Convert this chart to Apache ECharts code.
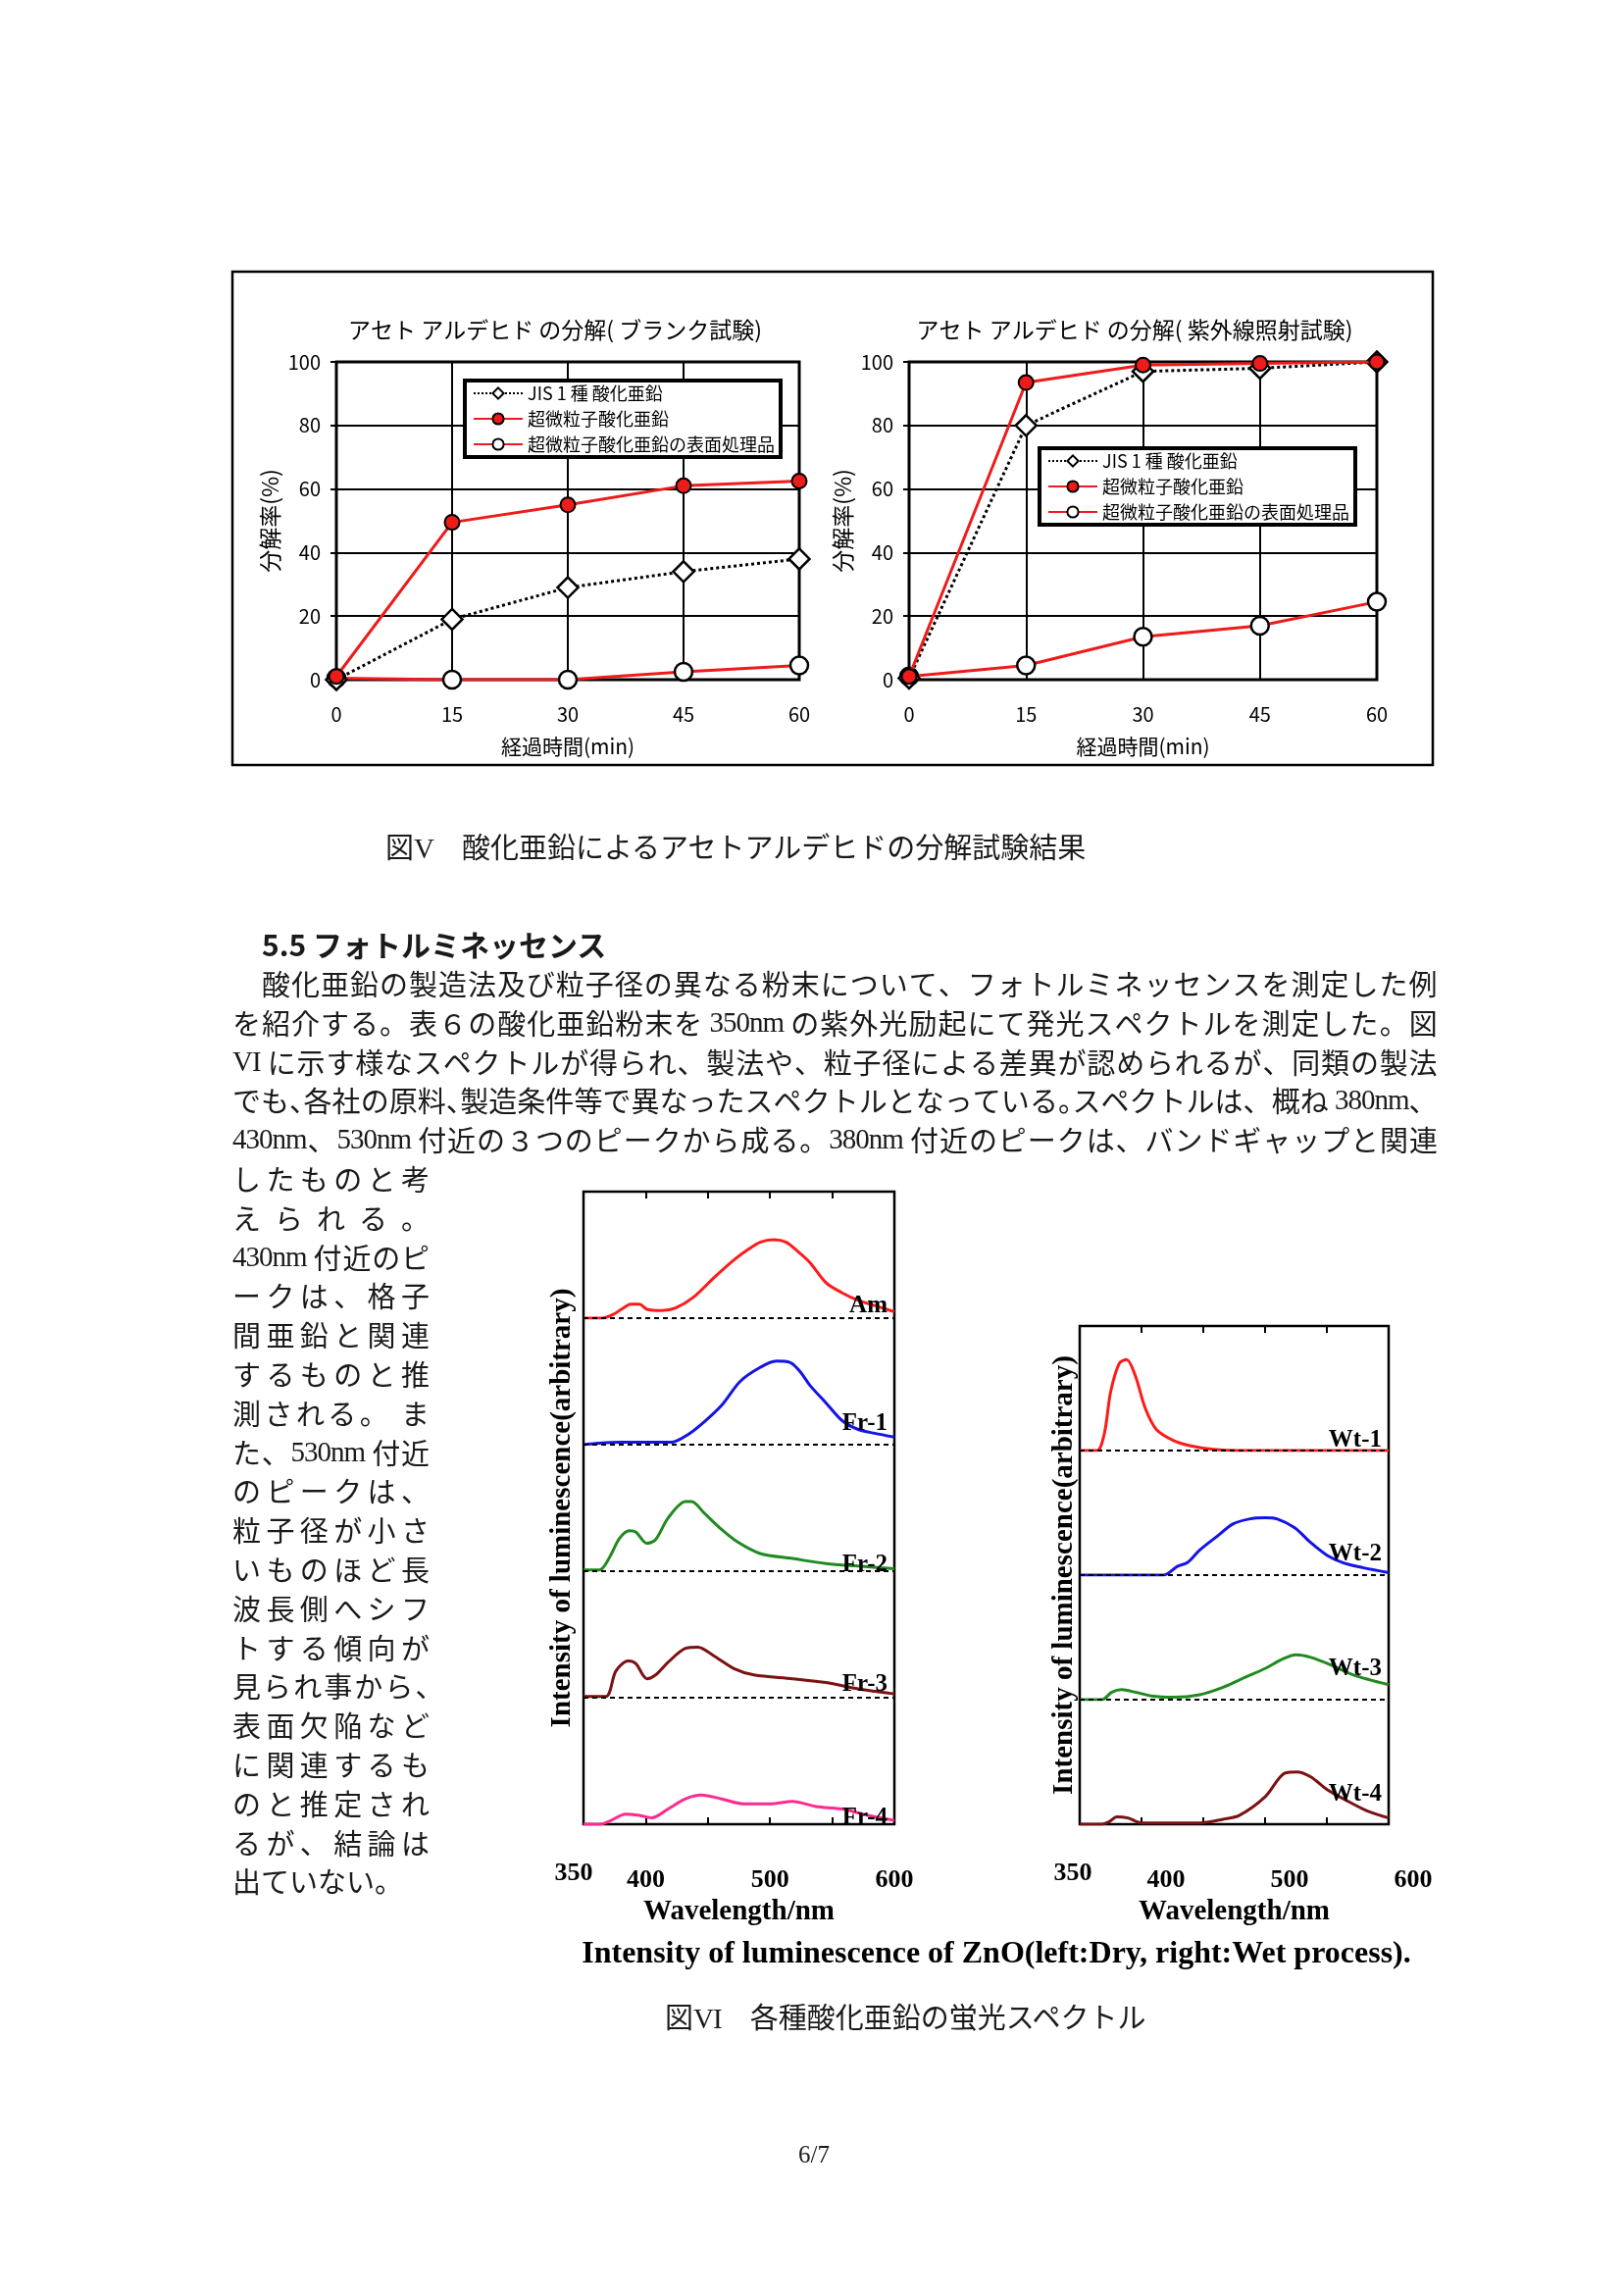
<!DOCTYPE html>
<html><head><meta charset="utf-8">
<script src="https://cdn.jsdelivr.net/npm/echarts@6/dist/echarts.min.js"></script>
<style>
html,body{margin:0;padding:0;background:#fff;}
#page{position:relative;width:1656px;height:2339px;overflow:hidden;background:#fff;}
#chart{position:absolute;left:0;top:0;width:1656px;height:2339px;}
.t{position:absolute;white-space:pre;font-family:"Noto Sans CJK JP",sans-serif;font-size:29px;line-height:40px;color:#1a1a1a;}
.j{display:flex;justify-content:space-between;}
.j span{white-space:pre;}
.j span.c{display:inline-block;width:0.5em;overflow:visible;}
.a{font-family:"Liberation Serif",serif;letter-spacing:-1px;}
.en{font-family:"Liberation Serif",serif;font-weight:bold;color:#000;}
</style></head>
<body><div id="page"><div id="chart"></div></div>
<script>
// ---------------- data ----------------
const times = [0, 15, 30, 45, 60];
const seriesNames = ['JIS 1 種 酸化亜鉛', '超微粒子酸化亜鉛', '超微粒子酸化亜鉛の表面処理品'];
const blankJIS = [0, 19, 29, 34, 38];
const blankUltra = [1, 49.5, 55, 61, 62.5];
const blankSurface = [0.5, 0, 0, 2.5, 4.5];
const uvJIS = [0.5, 80, 97, 98, 100];
const uvUltra = [1, 93.5, 99, 99.5, 100];
const uvSurface = [1, 4.5, 13.5, 17, 24.5];
const wavelengthTicks = [350, 400, 500, 600];

const dryNames = ['Am', 'Fr-1', 'Fr-2', 'Fr-3', 'Fr-4'];
const amSpec = [[350,0],[365,0],[374,0.03],[382,0.08],[388,0.11],[395,0.11],[401,0.07],[413,0.06],[424,0.08],[439,0.17],[455,0.32],[471,0.46],[482,0.54],[492,0.60],[503,0.62],[513,0.60],[522,0.53],[532,0.44],[545,0.28],[558,0.20],[571,0.14],[584,0.10],[600,0.05]];
const fr1Spec = [[350,0],[360,0.01],[380,0.02],[400,0.02],[421,0.02],[434,0.08],[447,0.18],[461,0.31],[476,0.50],[492,0.61],[505,0.66],[516,0.65],[524,0.58],[532,0.47],[545,0.33],[558,0.19],[571,0.12],[584,0.09],[600,0.06]];
const fr2Spec = [[350,0.01],[363,0.01],[371,0.11],[379,0.26],[387,0.32],[392,0.31],[401,0.22],[408,0.25],[418,0.42],[432,0.55],[437,0.55],[447,0.46],[461,0.33],[474,0.23],[492,0.14],[518,0.10],[545,0.06],[571,0.04],[600,0.02]];
const fr3Spec = [[350,0.01],[368,0.01],[376,0.21],[386,0.29],[392,0.27],[401,0.15],[408,0.18],[418,0.28],[432,0.39],[442,0.40],[455,0.33],[471,0.23],[487,0.18],[518,0.15],[545,0.12],[571,0.07],[600,0.03]];
const fr4Spec = [[350,0],[363,0],[370,0.02],[384,0.08],[395,0.07],[405,0.05],[418,0.12],[432,0.20],[445,0.23],[461,0.20],[479,0.16],[500,0.16],[518,0.18],[537,0.14],[558,0.12],[579,0.07],[600,0.03]];

const wetNames = ['Wt-1', 'Wt-2', 'Wt-3', 'Wt-4'];
const wt1Spec = [[350,0],[364,0],[370,0.14],[375,0.47],[382,0.70],[388,0.73],[395,0.60],[403,0.34],[412,0.17],[426,0.08],[439,0.04],[458,0.01],[480,0],[600,0]];
const wt2Spec = [[350,0],[418,0],[429,0.07],[437,0.10],[447,0.20],[461,0.31],[474,0.41],[487,0.45],[500,0.46],[510,0.45],[524,0.38],[537,0.26],[550,0.16],[563,0.10],[579,0.06],[600,0.02]];
const wt3Spec = [[350,0],[368,0],[376,0.06],[384,0.08],[395,0.06],[408,0.03],[426,0.02],[447,0.04],[466,0.10],[484,0.18],[500,0.25],[513,0.32],[525,0.36],[537,0.34],[553,0.28],[571,0.20],[600,0.12]];
const wt4Spec = [[350,0],[368,0],[374,0.02],[380,0.06],[389,0.05],[400,0.01],[447,0.01],[466,0.04],[479,0.07],[500,0.22],[516,0.41],[526,0.42],[537,0.38],[550,0.28],[566,0.19],[582,0.11],[600,0.05]];

const bodyLines = [
  '酸化亜鉛の製造法及び粒子径の異なる粉末について、フォトルミネッセンスを測定した例',
  'を紹介する。表６の酸化亜鉛粉末を 350nm の紫外光励起にて発光スペクトルを測定した。図',
  'VI に示す様なスペクトルが得られ、製法や、粒子径による差異が認められるが、同類の製法',
  'でも、各社の原料、製造条件等で異なったスペクトルとなっている。スペクトルは、概ね 380nm、',
  '430nm、530nm 付近の３つのピークから成る。380nm 付近のピークは、バンドギャップと関連'
];
const columnLines = ['したものと考','えられる。','430nm 付近のピ','ークは、格子','間亜鉛と関連','するものと推','測される。 ま','た、530nm 付近','のピークは、','粒子径が小さ','いものほど長','波長側へシフ','トする傾向が','見られ事から、','表面欠陥など','に関連するも','のと推定され','るが、結論は','出ていない。'];

// ---------------- text ----------------
const page = document.getElementById('page');
function addDiv(html, css, cls) {
  const d = document.createElement('div');
  d.className = 't ' + (cls || '');
  d.innerHTML = html;
  Object.assign(d.style, css);
  page.appendChild(d);
  return d;
}
function addLine(txt, left, centerY, width, justify) {
  const d = document.createElement('div');
  d.className = 't' + (justify ? ' j' : '');
  Object.assign(d.style, {left: left + 'px', top: (centerY - 20) + 'px'});
  if (justify) d.style.width = width + 'px';
  const punct = [];
  (txt.match(/[\x20-\x7E]+|./gu) || []).forEach(tok => {
    const s = document.createElement('span');
    s.textContent = tok;
    if (/^[\x20-\x7E]+$/.test(tok)) s.className = 'a';
    else if (tok === '、' || tok === '。') punct.push(s);
    d.appendChild(s);
  });
  page.appendChild(d);
  if (justify) {
    const natural = () => { let w = 0; d.querySelectorAll('span').forEach(s => w += s.getBoundingClientRect().width); return w; };
    for (const p of punct) { if (natural() <= width) break; p.classList.add('c'); }
  }
}
addDiv('図<span class="a">V</span>　酸化亜鉛によるアセトアルデヒドの分解試験結果', {left:'393px', top:'842px'});
addDiv('5.5 フォトルミネッセンス', {left:'267px', top:'942px', fontWeight:'bold', fontSize:'30px'});
const lineStep = 39.8;
bodyLines.forEach((t, i) => {
  const left = i === 0 ? 267 : 237;
  addLine(t, left, 1002 + lineStep * i, 1466 - left, true);
});
columnLines.forEach((t, i) => addLine(t, 237, 1002 + lineStep * (i + 5), 201, i < columnLines.length - 1));
addDiv('Intensity of luminescence of ZnO(left:Dry, right:Wet process).', {left:'1016px', top:'1970px', transform:'translateX(-50%)', fontSize:'32px'}, 'en');
addDiv('図<span class="a">VI</span>　各種酸化亜鉛の蛍光スペクトル', {left:'678px', top:'2035px'});
addDiv('6/7', {left:'830px', top:'2177px', transform:'translateX(-50%)', fontFamily:'"Liberation Serif",serif', fontSize:'25px'});

// ---------------- chart ----------------
const chart = echarts.init(document.getElementById('chart'), null, {width:1656, height:2339});
const FONT = '"Noto Sans CJK JP", sans-serif';
const SERIF = '"Liberation Serif", serif';
const RED = '#ee1b1b';
const grid = [], xAxis = [], yAxis = [], series = [];

function addTop(left, width, jis, ultra, surf) {
  const gi = grid.length;
  grid.push({left, top:369, width, height:324, show:true, borderColor:'#000', borderWidth:3, backgroundColor:'transparent'});
  xAxis.push({type:'value', gridIndex:gi, min:0, max:60, interval:15,
    axisLine:{show:false}, axisTick:{show:false},
    splitLine:{lineStyle:{color:'#000', width:2}},
    axisLabel:{color:'#000', fontSize:20, fontFamily:FONT, margin:25},
    name:'経過時間(min)', nameLocation:'middle', nameGap:58,
    nameTextStyle:{color:'#000', fontSize:21, fontFamily:FONT}});
  yAxis.push({type:'value', gridIndex:gi, min:0, max:100, interval:20,
    axisLine:{show:false}, axisTick:{show:true, length:6, lineStyle:{color:'#000', width:2}},
    splitLine:{lineStyle:{color:'#000', width:2}},
    axisLabel:{color:'#000', fontSize:20, fontFamily:FONT, margin:16},
    name:'分解率(%)', nameLocation:'middle', nameGap:56, nameRotate:90,
    nameTextStyle:{color:'#000', fontSize:23, fontFamily:FONT}});
  const xi = xAxis.length - 1, yi = yAxis.length - 1;
  const pairs = v => times.map((t, i) => [t, v[i]]);
  series.push({name:seriesNames[0], type:'line', xAxisIndex:xi, yAxisIndex:yi, data:pairs(jis),
    symbol:'diamond', symbolSize:21, lineStyle:{color:'#000', width:3, type:'dotted'},
    itemStyle:{color:'#fff', borderColor:'#000', borderWidth:2.5}, z:4});
  series.push({name:seriesNames[1], type:'line', xAxisIndex:xi, yAxisIndex:yi, data:pairs(ultra),
    symbol:'circle', symbolSize:15, lineStyle:{color:RED, width:3},
    itemStyle:{color:RED, borderColor:'#000', borderWidth:2}, z:5});
  series.push({name:seriesNames[2], type:'line', xAxisIndex:xi, yAxisIndex:yi, data:pairs(surf),
    symbol:'circle', symbolSize:18, lineStyle:{color:RED, width:3},
    itemStyle:{color:'#fff', borderColor:'#000', borderWidth:2.5}, z:3});
}
addTop(343, 472, blankJIS, blankUltra, blankSurface);
addTop(927, 477, uvJIS, uvUltra, uvSurface);

function addSpectra(box, specs, names, colors, labelDist, labelPad, pad350, nameGap) {
  const n = specs.length, bh = box.height / n;
  specs.forEach((sp, k) => {
    const gi = grid.length;
    grid.push({left:box.left, top:box.top + bh * k, width:box.width, height:bh});
    xAxis.push({type:'value', gridIndex:gi, min:350, max:600, show:false});
    yAxis.push({type:'value', gridIndex:gi, min:0, max:1, show:false});
    const last = k === n - 1;
    series.push({type:'line', name:names[k], xAxisIndex:xAxis.length - 1, yAxisIndex:yAxis.length - 1,
      data:sp, smooth:0.3, showSymbol:false, symbol:'none',
      lineStyle:{color:colors[k], width:3},
      markLine:{silent:true, symbol:'none', animation:false, data:[{yAxis:0}],
        lineStyle:{color:last ? 'rgba(0,0,0,0)' : '#000', type:[5,4], width:2},
        label:{show:true, position:'insideEndTop', formatter:names[k], color:'#000',
          fontFamily:SERIF, fontWeight:'bold', fontSize:25, distance:[7, labelDist[k]]}}});
  });
  const gi = grid.length;
  grid.push({left:box.left, top:box.top, width:box.width, height:box.height, show:true,
    borderColor:'#000', borderWidth:2.5, backgroundColor:'transparent'});
  const lbl = {color:'#000', fontFamily:SERIF, fontWeight:'bold', fontSize:26};
  xAxis.push({type:'value', gridIndex:gi, min:350, max:600, interval:50, position:'bottom',
    axisLine:{show:false}, splitLine:{show:false},
    axisTick:{show:true, inside:true, length:7, lineStyle:{color:'#000', width:2}},
    axisLabel:Object.assign({margin:44, padding:labelPad,
      formatter:v => (v !== 350 && wavelengthTicks.includes(v)) ? String(v) : ''}, lbl),
    name:'Wavelength/nm', nameLocation:'middle', nameGap:nameGap,
    nameTextStyle:{color:'#000', fontFamily:SERIF, fontWeight:'bold', fontSize:29}});
  xAxis.push({type:'value', gridIndex:gi, min:350, max:600, interval:50, position:'top',
    axisLine:{show:false}, splitLine:{show:false}, axisLabel:{show:false},
    axisTick:{show:true, inside:true, length:7, lineStyle:{color:'#000', width:2}}});
  xAxis.push({type:'value', gridIndex:gi, min:350, max:600, interval:50, position:'bottom',
    axisLine:{show:false}, splitLine:{show:false}, axisTick:{show:false},
    axisLabel:Object.assign({margin:37, padding:pad350,
      formatter:v => v === wavelengthTicks[0] ? String(v) : ''}, lbl)});
  yAxis.push({type:'value', gridIndex:gi, min:0, max:1, axisLine:{show:false}, axisTick:{show:false},
    axisLabel:{show:false}, splitLine:{show:false},
    name:'Intensity of luminescence(arbitrary)', nameLocation:'middle', nameRotate:90, nameGap:box.yNameGap,
    nameTextStyle:{color:'#000', fontFamily:SERIF, fontWeight:'bold', fontSize:29}});
}
addSpectra({left:595, top:1215, width:317, height:645, yNameGap:7},
  [amSpec, fr1Spec, fr2Spec, fr3Spec, fr4Spec], dryNames,
  ['#ff1a1a', '#1414e6', '#1f8a1f', '#7a1212', '#ff2a90'],
  [0, 9, -6, 1, -6], [0, 0, 0, 0], [0, 20, 0, 0], 75);
addSpectra({left:1101, top:1352, width:315, height:508, yNameGap:1},
  [wt1Spec, wt2Spec, wt3Spec, wt4Spec], wetNames,
  ['#ff1a1a', '#1414e6', '#1f8a1f', '#7a1212'],
  [-2, 9, 19, 18], [0, 0, 0, 50], [0, 14, 0, 0], 75);

const legendBase = {data:seriesNames, orient:'vertical', selectedMode:false,
  borderColor:'#000', borderWidth:4, backgroundColor:'#fff', padding:[4, 6, 4, 8],
  itemGap:8, itemWidth:50, itemHeight:14,
  textStyle:{color:'#000', fontSize:18, fontFamily:FONT}};

chart.setOption({
  animation:false,
  backgroundColor:'transparent',
  grid, xAxis, yAxis, series,
  legend:[Object.assign({left:474, top:388}, legendBase), Object.assign({left:1060, top:457}, legendBase)],
  graphic:[
    {type:'rect', shape:{x:237, y:277, width:1224, height:503}, style:{fill:'none', stroke:'#000', lineWidth:2.5}, silent:true},
    {type:'text', x:566, y:336, style:{text:'アセト アルデヒド の分解( ブランク試験)', fill:'#000', font:'23px ' + FONT, textAlign:'center', textVerticalAlign:'middle'}},
    {type:'text', x:1157, y:336, style:{text:'アセト アルデヒド の分解( 紫外線照射試験)', fill:'#000', font:'23px ' + FONT, textAlign:'center', textVerticalAlign:'middle'}}
  ]
});
</script></body></html>
